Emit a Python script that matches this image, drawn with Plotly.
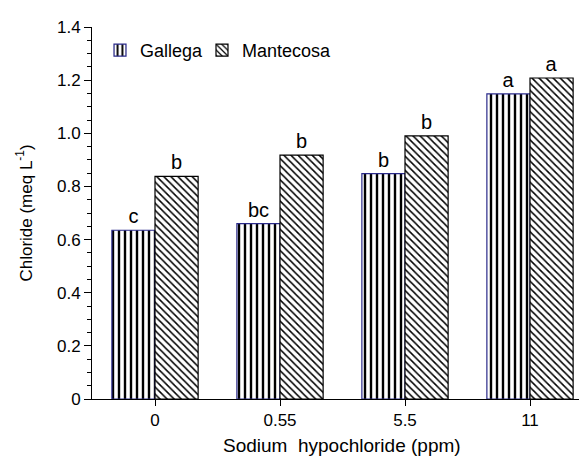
import plotly.graph_objects as go

categories = ["0", "0.55", "5.5", "11"]
gallega = [0.635, 0.66, 0.848, 1.148]
mantecosa = [0.838, 0.918, 0.99, 1.208]
gallega_letters = ["c", "bc", "b", "a"]
mantecosa_letters = ["b", "b", "b", "a"]
series_names = ["Gallega", "Mantecosa"]
ytick_vals = [0, 0.2, 0.4, 0.6, 0.8, 1.0, 1.2, 1.4]
ytick_text = ["0", "0.2", "0.4", "0.6", "0.8", "1.0", "1.2", "1.4"]
x_title = "Sodium  hypochloride (ppm)"
y_title = "Chloride (meq L<sup>-1</sup>)"

xpos = list(range(len(categories)))
FONT = "Liberation Sans, Arial, sans-serif"

fig = go.Figure()
fig.add_trace(go.Bar(
    x=xpos, y=gallega, name=series_names[0], legend="legend",
    text=gallega_letters, textposition="outside", cliponaxis=False,
    textfont=dict(size=20, color="black", family=FONT),
    marker=dict(color="white",
                line=dict(color="#2a2a8a", width=1.2),
                pattern=dict(shape="|", size=6, solidity=0.4,
                             fgcolor="black", bgcolor="white", fgopacity=1,
                             fillmode="overlay")),
))
fig.add_trace(go.Bar(
    x=xpos, y=mantecosa, name=series_names[1], legend="legend2",
    text=mantecosa_letters, textposition="outside", cliponaxis=False,
    textfont=dict(size=20, color="black", family=FONT),
    marker=dict(color="white",
                line=dict(color="black", width=1.2),
                pattern=dict(shape="\\", size=5, solidity=0.3,
                             fgcolor="black", bgcolor="white", fgopacity=1,
                             fillmode="overlay")),
))

fig.add_annotation(text=x_title, xref="paper", yref="paper", x=0.512, y=0,
                   xanchor="center", yanchor="middle", yshift=-46, showarrow=False,
                   font=dict(size=19, family=FONT, color="black"))

leg_common = dict(orientation="h", y=0.937, xanchor="left", yanchor="middle",
                  bgcolor="rgba(0,0,0,0)", font=dict(size=18, family=FONT, color="black"))

fig.update_layout(
    width=587, height=458,
    margin=dict(l=84, r=15, t=10, b=67),
    paper_bgcolor="white", plot_bgcolor="white",
    barmode="group", bargap=0.31, bargroupgap=0,
    font=dict(family=FONT, size=17, color="black"),
    showlegend=True,
    legend=dict(x=0.0164, **leg_common),
    legend2=dict(x=0.2254, **leg_common),
    xaxis=dict(range=[-0.504, 3.4], tickmode="array", tickvals=xpos, ticktext=categories,
               showline=True, linecolor="black", linewidth=1, ticks="outside",
               ticklen=6, tickcolor="black", showgrid=False, zeroline=False,
               tickfont=dict(size=17)),
    yaxis=dict(range=[0, 1.4], tickmode="array", tickvals=ytick_vals, ticktext=ytick_text,
               showline=True, linecolor="black", linewidth=1, ticks="outside",
               ticklen=7, tickcolor="black", showgrid=False, zeroline=False,
               tickfont=dict(size=17),
               minor=dict(dtick=0.05, ticks="outside", ticklen=4, tickcolor="black"),
               title=dict(text=y_title, font=dict(size=17), standoff=20)),
)

fig.write_html("out.html")
